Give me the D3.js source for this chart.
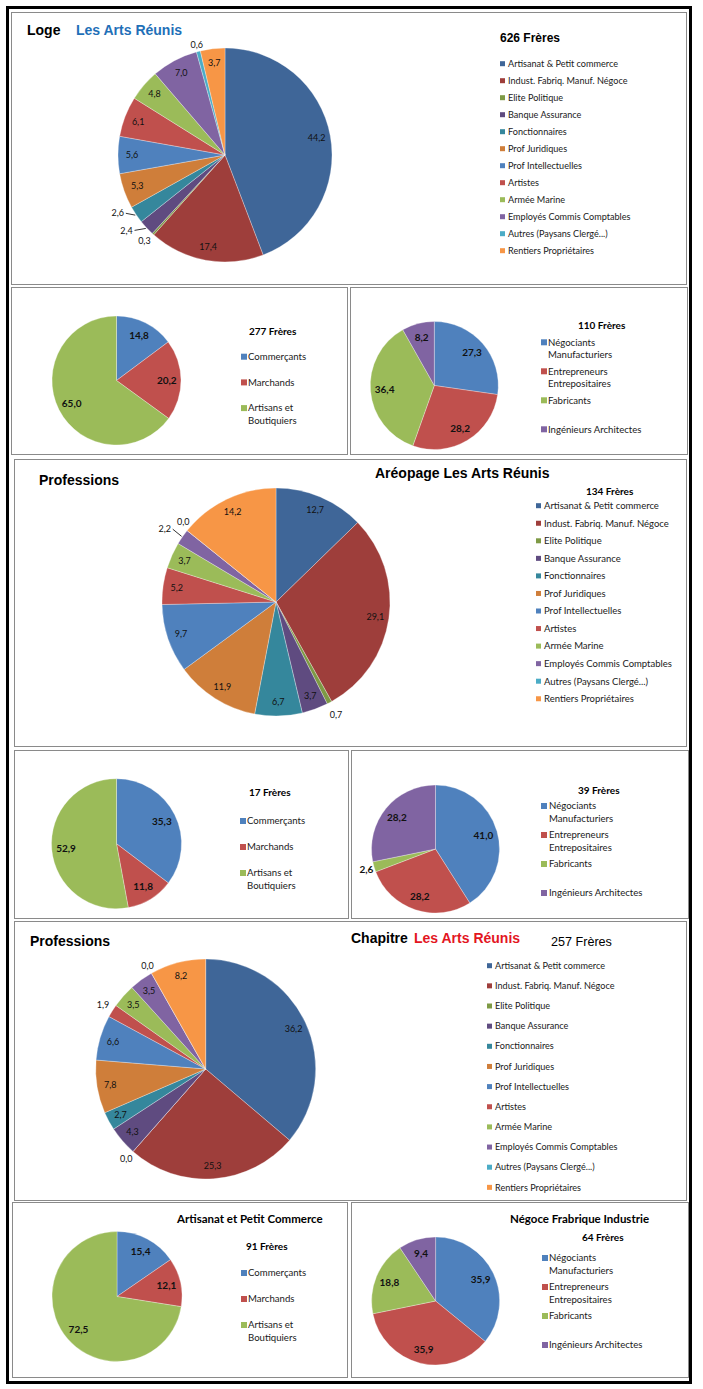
<!DOCTYPE html>
<html><head><meta charset="utf-8">
<script src="https://cdn.jsdelivr.net/npm/d3@7"></script>
<style>body{margin:0;background:#fff}svg{display:block}</style>
</head><body>
<svg id="chart" width="703" height="1389"></svg>
<script>
// ---------- DATA ----------
const professionCategories = ["Artisanat & Petit commerce","Indust. Fabriq. Manuf. Négoce","Elite Politique","Banque Assurance","Fonctionnaires","Prof Juridiques","Prof Intellectuelles","Artistes","Armée Marine","Employés Commis Comptables","Autres (Paysans Clergé...)","Rentiers Propriétaires"];
const logeValues     = [44.2, 17.4, 0.3, 2.4, 2.6, 5.3, 5.6, 6.1, 4.8, 7.0, 0.6, 3.7];
const areopageValues = [12.7, 29.1, 0.7, 3.7, 6.7, 11.9, 9.7, 5.2, 3.7, 2.2, 0.0, 14.2];
const chapitreValues = [36.2, 25.3, 0.0, 4.3, 2.7, 7.8, 6.6, 1.9, 3.5, 3.5, 0.0, 8.2];

const commerceCategories = ["Commerçants","Marchands","Artisans et Boutiquiers"];
const logeCommerceValues     = [14.8, 20.2, 65.0];
const areopageCommerceValues = [35.3, 11.8, 52.9];
const chapitreCommerceValues = [15.4, 12.1, 72.5];

const negoceCategories = ["Négociants Manufacturiers","Entrepreneurs Entrepositaires","Fabricants","Ingénieurs Architectes"];
const logeNegoceValues     = [27.3, 28.2, 36.4, 8.2];
const areopageNegoceValues = [41.0, 28.2, 2.6, 28.2];
const chapitreNegoceValues = [35.9, 35.9, 18.8, 9.4];

const freresCounts = {loge:626, logeCommerce:277, logeNegoce:110, areopage:134, areopageCommerce:17, areopageNegoce:39, chapitre:257, chapitreCommerce:91, chapitreNegoce:64};

// ---------- STYLE ----------
const professionColors = ["#3F6698","#9E3E3B","#7E9A45","#5F4B80","#35879C","#CF7E3A","#4F81BD","#C0504D","#9BBB59","#8064A2","#4BACC6","#F79646"];
const commerceColors = ["#4F81BD","#C0504D","#9BBB59"];
const negoceColors = ["#4F81BD","#C0504D","#9BBB59","#8064A2"];
const ARIAL = "'Liberation Sans', Arial, sans-serif";
const CAL = "Lato, 'Noto Sans', sans-serif";

const svg = d3.select("#chart");
const fmt = v => d3.format(".1f")(v).replace(".", ",");

// outer frame
svg.append("rect").attr("x",7.5).attr("y",7.5).attr("width",683).attr("height",1375)
  .attr("fill","#fff").attr("stroke","#000").attr("stroke-width",3);

function panel(p){
  svg.append("rect").attr("x",p.x+0.5).attr("y",p.y+0.5).attr("width",p.w).attr("height",p.h)
    .attr("fill","#fff").attr("stroke","#8a8a8a").attr("stroke-width",1);
}

function text(x,y,str,opt){
  const t = svg.append("text").attr("x",x).attr("y",y).attr("dy","0.35em")
    .attr("font-family",opt.family||CAL).attr("font-size",opt.size||10)
    .attr("font-weight",opt.weight||"normal").attr("fill",opt.fill||"#000")
    .attr("text-anchor",opt.anchor||"start").text(str);
  return t;
}

function drawPie(values, colors, o){
  const pie = d3.pie().sort(null).value(d=>d);
  const arcs = pie(values);
  const arc = d3.arc().innerRadius(0).outerRadius(o.r);
  const lab = d3.arc().innerRadius(o.r*o.lf).outerRadius(o.r*o.lf);
  const g = svg.append("g").attr("transform",`translate(${o.cx},${o.cy})`);
  g.selectAll("path.s").data(arcs).join("path").attr("class","s")
    .attr("d",arc).attr("fill",(d,i)=>colors[i])
    .attr("stroke","#ffffff").attr("stroke-opacity",0.5).attr("stroke-width",0.6);
  arcs.forEach((d,i)=>{
    const out = o.outside && o.outside[i];
    const mid = (d.startAngle+d.endAngle)/2;
    let x,y;
    if(out){
      const a = mid + (out.da||0)*Math.PI/180, R = o.r + out.off;
      x = R*Math.sin(a); y = -R*Math.cos(a);
      if(out.leader){
        const ex = (o.r+1)*Math.sin(mid), ey = -(o.r+1)*Math.cos(mid);
        const side = x<0 ? 1 : -1;
        g.append("path").attr("d",`M${x+side*8},${y}L${ex},${ey}`)
          .attr("fill","none").attr("stroke","#000").attr("stroke-width",0.8);
      }
    } else { [x,y] = lab.centroid(d); }
    g.append("text").attr("x",x).attr("y",y).attr("dy","0.35em").attr("text-anchor","middle")
      .attr("font-family",CAL).attr("font-size",o.fs).attr("font-weight",o.fw||"normal")
      .attr("fill","#111").text(fmt(d.data));
  });
}

function bigLegend(cats, colors, l){
  cats.forEach((c,i)=>{
    const y = l.y0 + i*l.step;
    svg.append("rect").attr("x",l.sx).attr("y",y-2.5).attr("width",5).attr("height",5).attr("fill",colors[i]);
    text(l.tx,y,c,{size:l.fs,fill:"#1a1a1a"});
  });
}

function smallLegend(cats, colors, l){
  cats.forEach((c,i)=>{
    const y = l.y0 + i*l.step;
    svg.append("rect").attr("x",l.sx).attr("y",y-3).attr("width",6).attr("height",6).attr("fill",colors[i]);
    let lines = [c];
    if(c.length>22){ const k=c.lastIndexOf(" "); lines=[c.slice(0,k), c.slice(k+1)]; }
    lines.forEach((ln,j)=>text(l.tx,y+j*12.7,ln,{size:9.6,fill:"#1a1a1a"}));
  });
}

// ---------- PANEL 1 : Loge ----------
panel({x:11,y:12,w:675,h:272});
text(27,30,"Loge",{family:ARIAL,size:14,weight:"bold"});
text(76,30,"Les Arts Réunis",{family:ARIAL,size:14,weight:"bold",fill:"#1F70B8"});
drawPie(logeValues, professionColors, {cx:225,cy:155,r:107,lf:0.87,fs:9,
  outside:{2:{off:11,da:0.8},3:{off:17,da:5.4,leader:true},4:{off:15,da:5.3,leader:true},10:{off:7}}});
text(500,38,`${freresCounts.loge} Frères`,{family:ARIAL,size:12,weight:"bold"});
bigLegend(professionCategories, professionColors, {sx:500,tx:508,y0:63.7,step:17,fs:9.1});

// ---------- PANEL 2 ----------
panel({x:11,y:287,w:336,h:167});
drawPie(logeCommerceValues, commerceColors, {cx:116.5,cy:380.5,r:64.5,lf:0.78,fs:10,fw:"bold"});
text(249,331.7,`${freresCounts.logeCommerce} Frères`,{size:10,weight:"bold"});
smallLegend(commerceCategories, commerceColors, {sx:241,tx:248,y0:356.7,step:25.7});

panel({x:350,y:287,w:337,h:167});
drawPie(logeNegoceValues, negoceColors, {cx:434.3,cy:385.5,r:64,lf:0.78,fs:10,fw:"bold"});
text(578,325,`${freresCounts.logeNegoce} Frères`,{size:10,weight:"bold"});
smallLegend(negoceCategories, negoceColors, {sx:541,tx:548,y0:342.3,step:29});

// ---------- PANEL 3 : Aréopage ----------
panel({x:14,y:459,w:672,h:287});
text(39,480,"Professions",{family:ARIAL,size:14,weight:"bold"});
text(375,473,"Aréopage Les Arts Réunis",{family:ARIAL,size:14,weight:"bold"});
drawPie(areopageValues, professionColors, {cx:276,cy:602,r:114,lf:0.88,fs:9,
  outside:{2:{off:14},9:{off:19,da:-1.6,leader:true},10:{off:9,da:2.2}}});
text(586,491.7,`${freresCounts.areopage} Frères`,{size:10,weight:"bold"});
bigLegend(professionCategories, professionColors, {sx:536,tx:544,y0:505.7,step:17.55,fs:9.5});

// ---------- PANEL 4 ----------
panel({x:14,y:750,w:334,h:168});
drawPie(areopageCommerceValues, commerceColors, {cx:116.5,cy:843.7,r:65,lf:0.78,fs:10,fw:"bold"});
text(249,792.7,`${freresCounts.areopageCommerce} Frères`,{size:10,weight:"bold"});
smallLegend(commerceCategories, commerceColors, {sx:240,tx:247,y0:821,step:26});

panel({x:351,y:750,w:337,h:168});
drawPie(areopageNegoceValues, negoceColors, {cx:435.5,cy:849,r:64,lf:0.78,fs:10,fw:"bold",
  outside:{2:{off:8}}});
text(578,790,`${freresCounts.areopageNegoce} Frères`,{size:10,weight:"bold"});
smallLegend(negoceCategories, negoceColors, {sx:541,tx:549,y0:806,step:29});

// ---------- PANEL 5 : Chapitre ----------
panel({x:14,y:921,w:672,h:279});
text(30,941,"Professions",{family:ARIAL,size:14,weight:"bold"});
text(351,938,"Chapitre",{family:ARIAL,size:14,weight:"bold"});
text(414,938,"Les Arts Réunis",{family:ARIAL,size:14,weight:"bold",fill:"#E3161F"});
text(551,942,`${freresCounts.chapitre} Frères`,{family:ARIAL,size:12.6});
drawPie(chapitreValues, professionColors, {cx:205.7,cy:1069,r:110,lf:0.88,fs:9,
  outside:{2:{off:10},7:{off:11},10:{off:8}}});
bigLegend(professionCategories, professionColors, {sx:487,tx:495,y0:965.7,step:20.15,fs:9.1});

// ---------- PANEL 6 ----------
panel({x:12,y:1202,w:335,h:175});
text(177,1218.7,"Artisanat et Petit Commerce",{size:11.5,weight:"bold"});
text(246,1246,`${freresCounts.chapitreCommerce} Frères`,{size:10,weight:"bold"});
drawPie(chapitreCommerceValues, commerceColors, {cx:117,cy:1296.5,r:65,lf:0.78,fs:10,fw:"bold"});
smallLegend(commerceCategories, commerceColors, {sx:241,tx:248,y0:1273,step:26});

panel({x:351,y:1202,w:337,h:175});
text(510,1218.7,"Négoce Frabrique Industrie",{size:11.5,weight:"bold"});
text(582,1237,`${freresCounts.chapitreNegoce} Frères`,{size:10,weight:"bold"});
drawPie(chapitreNegoceValues, negoceColors, {cx:435.6,cy:1301,r:64,lf:0.78,fs:10,fw:"bold"});
smallLegend(negoceCategories, negoceColors, {sx:542,tx:549,y0:1258,step:29});
</script>
</body></html>
